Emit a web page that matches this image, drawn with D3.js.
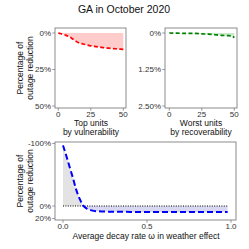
<!DOCTYPE html>
<html>
<head>
<meta charset="utf-8">
<script src="https://cdn.jsdelivr.net/npm/d3@7"></script>
<style>
  body { margin: 0; background: #fff; }
  text { font-family: "Liberation Sans", Arial, sans-serif; }
</style>
</head>
<body>
<script>
// top units by vulnerability (red)
var vulnK   = [0, 2, 4, 6, 8, 10, 12, 14, 16, 18, 20, 24, 28, 32, 36, 40, 44, 48, 50];
var vulnPct = [0, 0.5, 1.0, 1.6, 2.4, 3.4, 4.6, 5.9, 6.8, 7.3, 7.7, 8.6, 9.2, 9.7, 10.2, 10.5, 10.8, 11.1, 11.2];
// worst units by recoverability (green)
var recK   = [0, 5, 10, 15, 20, 25, 30, 35, 40, 45, 48, 50];
var recPct = [0, 0.005, 0.01, 0.01, 0.015, 0.03, 0.04, 0.06, 0.08, 0.09, 0.1, 0.16];
// decay rate (blue)
var omega    = [0, 0.02, 0.04, 0.06, 0.08, 0.10, 0.12, 0.14, 0.17, 0.21, 0.3, 0.4, 0.5, 0.6, 0.7, 0.8, 0.9, 0.98];
var omegaPct = [-97, -80, -62, -44, -25, -11, -1, 4, 7, 8.5, 9.2, 9.4, 9.4, 9.5, 9.5, 9.6, 9.6, 9.6];

var unitTicks = [0, 25, 50];
var vulnTicks = [0, 25, 50];
var recTicks = [0, 1.25, 2.5];
var omegaXTicks = [0, 0.5, 1.0];
var omegaYTicks = [-100, 0, 20];

var w = 249, h = 249;
var svg = d3.select("body").append("svg")
  .attr("width", w).attr("height", h);

svg.append("text")
  .attr("x", 124).attr("y", 13)
  .attr("text-anchor", "middle")
  .attr("font-size", 10.5)
  .attr("fill", "#111")
  .text("GA in October 2020");

var borderCol = "#7f7f7f";
var tickCol = "#333";

function panel(p) {
  var g = svg.append("g");
  // x axis ticks
  p.xTicks.forEach(function(t) {
    var x = p.x(t);
    g.append("line").attr("x1", x).attr("x2", x)
      .attr("y1", p.bottom).attr("y2", p.bottom + 2.7)
      .attr("stroke", borderCol).attr("stroke-width", 0.8);
    g.append("text").attr("x", x).attr("y", p.bottom + 8.6)
      .attr("text-anchor", "middle").attr("font-size", 8)
      .attr("fill", tickCol).text(p.xFmt(t));
  });
  p.yTicks.forEach(function(t) {
    var y = p.y(t);
    g.append("line").attr("x1", p.left - 2.7).attr("x2", p.left)
      .attr("y1", y).attr("y2", y)
      .attr("stroke", borderCol).attr("stroke-width", 0.8);
    g.append("text").attr("x", p.left - 4).attr("y", y + 2.9)
      .attr("text-anchor", "end").attr("font-size", 8)
      .attr("fill", tickCol).text(p.yFmt(t));
  });
  return g;
}

function border(p) {
  svg.append("rect")
    .attr("x", p.left).attr("y", p.top)
    .attr("width", p.right - p.left).attr("height", p.bottom - p.top)
    .attr("fill", "none").attr("stroke", borderCol).attr("stroke-width", 0.9);
}

function multiText(x, y, lines, size, rotate) {
  var t = svg.append("text")
    .attr("text-anchor", "middle").attr("font-size", size).attr("fill", "#111");
  if (rotate) t.attr("transform", "translate(" + x + "," + y + ") rotate(-90)");
  else t.attr("transform", "translate(" + x + "," + y + ")");
  lines.forEach(function(l, i) {
    t.append("tspan").attr("x", 0).attr("dy", i === 0 ? 0 : "1.12em").text(l);
  });
}

// ---- top left
var p1 = { left: 55, right: 126, top: 28, bottom: 108 };
p1.x = d3.scaleLinear().domain([0, 50]).range([58.3, 123.3]);
p1.y = d3.scaleLinear().domain([0, 50]).range([33, 106]);
p1.xTicks = unitTicks; p1.yTicks = vulnTicks;
p1.xFmt = function(d) { return d; };
p1.yFmt = function(d) { return d + "%"; };

var area1 = d3.area().x(function(d, i) { return p1.x(vulnK[i]); })
  .y0(p1.y(0)).y1(function(d) { return p1.y(d); }).curve(d3.curveMonotoneX);
var line1 = d3.line().x(function(d, i) { return p1.x(vulnK[i]); })
  .y(function(d) { return p1.y(d); }).curve(d3.curveMonotoneX);
svg.append("path").attr("d", area1(vulnPct)).attr("fill", "#ffcccc");
svg.append("path").attr("d", line1(vulnPct))
  .attr("fill", "none").attr("stroke", "#ff0000").attr("stroke-width", 1.7)
  .attr("stroke-dasharray", "4,2.4");
panel(p1); border(p1);

// ---- top right
var p2 = { left: 165, right: 237, top: 28, bottom: 108 };
p2.x = d3.scaleLinear().domain([0, 50]).range([169.3, 234.3]);
p2.y = d3.scaleLinear().domain([0, 2.5]).range([33, 106]);
p2.xTicks = unitTicks; p2.yTicks = recTicks;
p2.xFmt = function(d) { return d; };
p2.yFmt = function(d) { return d === 0 ? "0%" : d3.format(".2f")(d) + "%"; };

var area2 = d3.area().x(function(d, i) { return p2.x(recK[i]); })
  .y0(p2.y(0)).y1(function(d) { return p2.y(d); }).curve(d3.curveMonotoneX);
var line2 = d3.line().x(function(d, i) { return p2.x(recK[i]); })
  .y(function(d) { return p2.y(d); }).curve(d3.curveMonotoneX);
svg.append("path").attr("d", area2(recPct)).attr("fill", "#cde8cd");
svg.append("path").attr("d", line2(recPct))
  .attr("fill", "none").attr("stroke", "#008000").attr("stroke-width", 1.7)
  .attr("stroke-dasharray", "4,2.4");
panel(p2); border(p2);

multiText(91, 125.5, ["Top units", "by vulnerability"], 8.5, false);
multiText(201, 125.5, ["Worst units", "by recoverability"], 8.5, false);
multiText(23, 68, ["Percentage of", "outage reduction"], 8.5, true);

// ---- bottom
var p3 = { left: 55, right: 236, top: 142, bottom: 220 };
p3.x = d3.scaleLinear().domain([0, 1]).range([63, 231]);
p3.y = d3.scaleLinear().domain([-100, 20]).range([143.5, 218.5]);
p3.xTicks = omegaXTicks; p3.yTicks = omegaYTicks;
p3.xFmt = d3.format(".1f");
p3.yFmt = function(d) { return d + "%"; };

var defs = svg.append("defs");
defs.append("clipPath").attr("id", "neg").append("rect")
  .attr("x", p3.left).attr("y", p3.top)
  .attr("width", p3.right - p3.left).attr("height", p3.y(0) - p3.top);
defs.append("clipPath").attr("id", "pos").append("rect")
  .attr("x", p3.left).attr("y", p3.y(0))
  .attr("width", p3.right - p3.left).attr("height", p3.bottom - p3.y(0));

var area3 = d3.area().x(function(d, i) { return p3.x(omega[i]); })
  .y0(p3.y(0)).y1(function(d) { return p3.y(d); }).curve(d3.curveMonotoneX);
var line3 = d3.line().x(function(d, i) { return p3.x(omega[i]); })
  .y(function(d) { return p3.y(d); }).curve(d3.curveMonotoneX);
svg.append("path").attr("d", area3(omegaPct)).attr("fill", "#e3e3e3")
  .attr("clip-path", "url(#neg)");
svg.append("path").attr("d", area3(omegaPct)).attr("fill", "#d8d8f0")
  .attr("clip-path", "url(#pos)");
svg.append("line")
  .attr("x1", p3.x(0)).attr("x2", p3.x(omega[omega.length - 1]))
  .attr("y1", p3.y(0)).attr("y2", p3.y(0))
  .attr("stroke", "#000").attr("stroke-width", 1.1)
  .attr("stroke-dasharray", "1,1.4");
svg.append("path").attr("d", line3(omegaPct))
  .attr("fill", "none").attr("stroke", "#0000ff").attr("stroke-width", 2)
  .attr("stroke-dasharray", "6,3");
panel(p3); border(p3);

multiText(23, 181, ["Percentage of", "outage reduction"], 8.5, true);
svg.append("text").attr("x", 146).attr("y", 239)
  .attr("text-anchor", "middle").attr("font-size", 8.5).attr("fill", "#111")
  .text("Average decay rate \u03c9 in weather effect");
</script>
</body>
</html>
